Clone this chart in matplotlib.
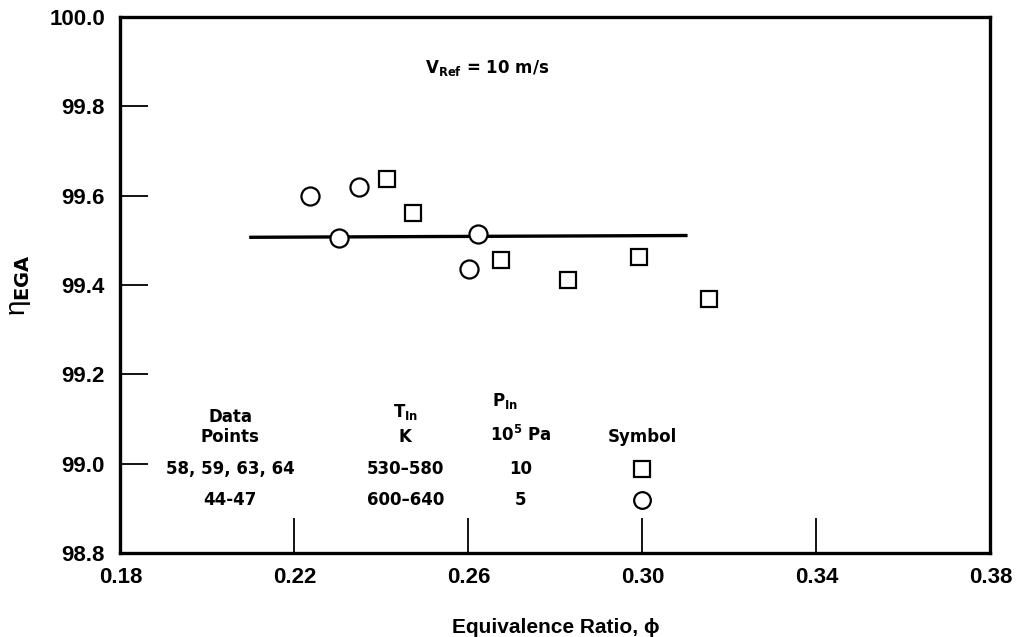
import matplotlib
matplotlib.use("Agg")
import matplotlib.pyplot as plt

plt.rcParams["font.family"] = ["Liberation Sans", "DejaVu Sans"]
plt.rcParams["mathtext.fontset"] = "dejavusans"

# squares: runs 58, 59, 63, 64 (10 x 10^5 Pa, 530-580 K)
sq_phi = [0.2413, 0.2472, 0.2676, 0.2829, 0.2992, 0.3153]
sq_eta = [99.637, 99.562, 99.456, 99.411, 99.462, 99.368]
# circles: runs 44-47 (5 x 10^5 Pa, 600-640 K)
ci_phi = [0.2235, 0.2349, 0.2302, 0.2622, 0.2601]
ci_eta = [99.600, 99.620, 99.506, 99.514, 99.437]
# mean line through the data
fit_phi = [0.210, 0.310]
fit_eta = [99.507, 99.511]

x_ticks = [0.18, 0.22, 0.26, 0.30, 0.34, 0.38]
y_ticks = [98.8, 99.0, 99.2, 99.4, 99.6, 99.8, 100.0]

# legend table inside the plot
col_x = [0.2053, 0.2455, 0.2720, 0.3000]
row_labels = [["58, 59, 63, 64", "530\u2013580", "10"], ["44-47", "600\u2013640", "5"]]
row_y = [98.988, 98.919]
row_marker = ["s", "o"]

fig = plt.figure(figsize=(10.2, 6.37), dpi=100)
ax = fig.add_axes([0.118, 0.132, 0.853, 0.841])

ax.plot(fit_phi, fit_eta, color="black", lw=2.4, zorder=2)
ax.plot(sq_phi, sq_eta, ls="none", marker="s", ms=12, mfc="white", mec="black", mew=1.6, zorder=3)
ax.plot(ci_phi, ci_eta, ls="none", marker="o", ms=13, mfc="white", mec="black", mew=1.6, zorder=3)

ax.set_xlim(0.18, 0.38)
ax.set_ylim(98.8, 100.0)
ax.set_xticks(x_ticks)
ax.set_yticks(y_ticks)
ax.set_xticklabels([f"{v:.2f}" for v in x_ticks])
ax.set_yticklabels([f"{v:.1f}" for v in y_ticks])
for lab in ax.get_xticklabels() + ax.get_yticklabels():
    lab.set_fontweight("bold")
    lab.set_fontsize(16)
ax.tick_params(axis="x", direction="in", length=25, width=1.3, pad=10)
ax.tick_params(axis="y", direction="in", length=20, width=1.3, pad=11)
for s in ax.spines.values():
    s.set_linewidth(2.4)

ax.set_xlabel("Equivalence Ratio, \u03d5", fontsize=15, fontweight="bold", labelpad=22)
ax.set_ylabel("\u03b7$_{\\mathbf{EGA}}$", fontsize=20, labelpad=12)

txt = dict(fontsize=12, fontweight="bold", ha="center", va="center", family="DejaVu Sans")
ax.text(0.2644, 99.886, r"V$_{\mathbf{Ref}}$ = 10 m/s", **txt)

ax.text(col_x[0], 99.105, "Data", **txt)
ax.text(col_x[0], 99.060, "Points", **txt)
ax.text(col_x[1], 99.115, r"T$_{\mathbf{In}}$", **txt)
ax.text(col_x[1], 99.060, "K", **txt)
ax.text(col_x[2] - 0.0035, 99.140, r"P$_{\mathbf{In}}$", **txt)
ax.text(col_x[2], 99.065, r"10$^{\mathbf{5}}$ Pa", **txt)
ax.text(col_x[3], 99.060, "Symbol", **txt)

for labels, y, m in zip(row_labels, row_y, row_marker):
    for cx, t in zip(col_x[:3], labels):
        ax.text(cx, y, t, **txt)
    ax.plot([col_x[3]], [y], ls="none", marker=m, ms=12, mfc="white", mec="black", mew=1.6)

fig.savefig("out.png", dpi=100)
